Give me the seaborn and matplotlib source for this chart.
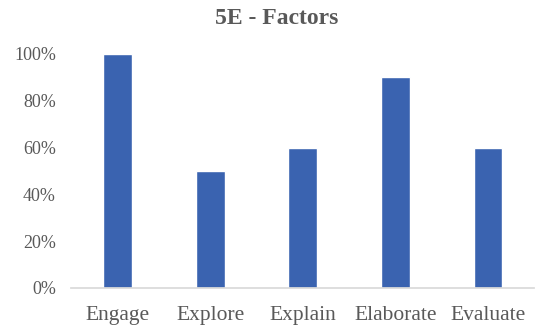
import matplotlib
matplotlib.use("Agg")
import matplotlib.pyplot as plt
import seaborn as sns
import pandas as pd
from matplotlib.ticker import PercentFormatter

categories = ["Engage", "Explore", "Explain", "Elaborate", "Evaluate"]
values = [1.0, 0.5, 0.6, 0.9, 0.6]

df = pd.DataFrame({"Factor": categories, "Share": values})

sns.set_theme(style="white")
plt.rcParams["font.family"] = ["Liberation Serif", "DejaVu Serif"]

fig = plt.figure(figsize=(5.48, 3.29), dpi=100)
ax = fig.add_axes([0.130, 0.125, 0.845, 0.711])
sns.barplot(data=df, x="Factor", y="Share", color="#3A63B0", saturation=1,
            width=0.31, ax=ax)

ax.set_ylim(0, 1.0)
ax.set_xlim(-0.5, 4.5)
ax.set_yticks([0, 0.2, 0.4, 0.6, 0.8, 1.0])
ax.yaxis.set_major_formatter(PercentFormatter(1.0, decimals=0))
ax.set_xlabel("")
ax.set_ylabel("")
for s in ["top", "right", "left"]:
    ax.spines[s].set_visible(False)
ax.spines["bottom"].set_color("#D9D9D9")
ax.tick_params(axis="y", labelsize=13, labelcolor="#595959", length=0, pad=11)
ax.tick_params(axis="x", labelsize=15.5, labelcolor="#595959", length=0, pad=13)

fig.suptitle("5E - Factors", y=0.975, fontsize=17, fontweight="bold", color="#595959", x=0.505)

fig.savefig("out.png", dpi=100)
